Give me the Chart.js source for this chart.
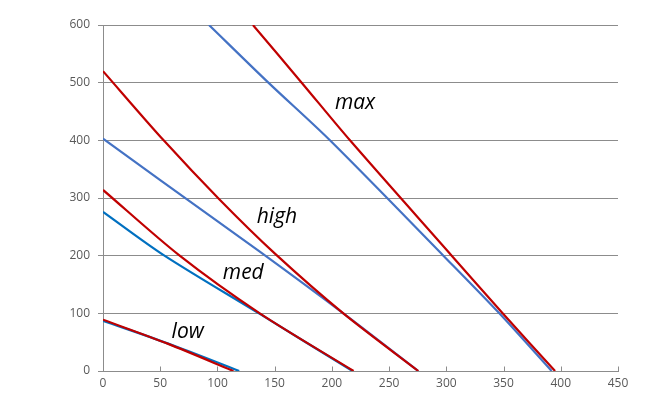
<!DOCTYPE html>
<html>
<head>
<meta charset="utf-8">
<script src="https://cdn.jsdelivr.net/npm/chart.js@4/dist/chart.umd.min.js"></script>
<style>
  html, body { margin: 0; padding: 0; background: #fff; }
  #wrap { width: 645px; height: 406px; }
</style>
</head>
<body>
<div id="wrap"><canvas id="chart" width="645" height="406"></canvas></div>
<script>
// values
const xTicks = [0, 50, 100, 150, 200, 250, 300, 350, 400, 450];
const yTicks = [0, 100, 200, 300, 400, 500, 600];

const lowRedX = [0, 57, 114];
const lowRedY = [89, 47, 0];
const lowBlueX = [0, 57, 119];
const lowBlueY = [87, 47.5, 0];

const medRedX = [0, 67, 137, 219];
const medRedY = [314, 200, 100, 0];
const medBlueX = [0, 53, 137, 218];
const medBlueY = [276, 201, 99, 0];

const highRedX = [0, 53, 102, 150, 210, 275.5];
const highRedY = [520, 400, 297, 204, 100, 0];
const highBlueX = [0, 50, 137, 210, 275.5];
const highBlueY = [403, 331, 207, 100, 0];

const maxRedX = [131, 173.6, 215.8, 304.7, 349.2, 395];
const maxRedY = [600, 500, 400, 200, 100, 0];
const maxBlueX = [92.6, 144.5, 198.3, 297.4, 346.3, 392];
const maxBlueY = [600, 500, 400, 200, 100, 0];

const labelText = ["low", "med", "high", "max"];
const labelX = [74, 122.6, 152, 220.2];
const labelY = [57, 159, 257, 454];

function pts(xs, ys) {
  return xs.map((x, i) => ({ x: x, y: ys[i] }));
}

function series(xs, ys, color, order) {
  return {
    data: pts(xs, ys),
    borderColor: color,
    borderWidth: 2.2,
    pointRadius: 0,
    showLine: true,
    fill: false,
    tension: 0.3,
    order: order
  };
}

const RED = '#C00000';
const BLUE = '#4472C4';
const BLUE2 = '#0070C0';
const GRID = '#8c8c8c';

// italic curve labels and inward x tick marks
const extras = {
  id: 'extras',
  afterDatasetsDraw(chart) {
    const ctx = chart.ctx;
    const xs = chart.scales.x, ys = chart.scales.y;
    ctx.save();
    ctx.font = 'italic 21px "Open Sans"';
    ctx.fillStyle = '#000';
    ctx.textAlign = 'center';
    ctx.textBaseline = 'alphabetic';
    labelText.forEach((t, i) => {
      ctx.fillText(t, xs.getPixelForValue(labelX[i]), ys.getPixelForValue(labelY[i]));
    });
    ctx.strokeStyle = GRID;
    ctx.lineWidth = 1;
    const bottom = Math.round(ys.getPixelForValue(0)) + 0.5;
    xTicks.forEach(v => {
      const px = Math.round(xs.getPixelForValue(v)) + 0.5;
      ctx.beginPath();
      ctx.moveTo(px, bottom);
      ctx.lineTo(px, bottom - 5);
      ctx.stroke();
    });
    ctx.restore();
  }
};

new Chart(document.getElementById('chart'), {
  type: 'scatter',
  data: {
    datasets: [
      series(lowRedX, lowRedY, RED, 0),
      series(medRedX, medRedY, RED, 0),
      series(highRedX, highRedY, RED, 0),
      series(maxRedX, maxRedY, RED, 0),
      series(lowBlueX, lowBlueY, BLUE2, 1),
      series(medBlueX, medBlueY, BLUE2, 1),
      series(highBlueX, highBlueY, BLUE, 1),
      series(maxBlueX, maxBlueY, BLUE, 1)
    ]
  },
  options: {
    responsive: false,
    animation: false,
    layout: { padding: { left: 0, right: 27, top: 25, bottom: 0 } },
    plugins: { legend: { display: false }, tooltip: { enabled: false } },
    scales: {
      x: {
        type: 'linear',
        min: 0,
        max: 450,
        afterBuildTicks: s => { s.ticks = xTicks.map(v => ({ value: v })); },
        afterFit: s => { s.height = 35; },
        grid: { drawOnChartArea: false, drawTicks: false, color: GRID },
        border: { color: GRID, width: 1 },
        ticks: { color: '#595959', font: { family: 'Open Sans', size: 12 }, padding: 5, maxRotation: 0 }
      },
      y: {
        type: 'linear',
        min: 0,
        max: 600,
        afterBuildTicks: s => { s.ticks = yTicks.map(v => ({ value: v })); },
        afterFit: s => { s.width = 103; },
        grid: { color: GRID, tickLength: 5, lineWidth: 1 },
        border: { color: GRID, width: 1 },
        ticks: { color: '#595959', font: { family: 'Open Sans', size: 12 }, padding: 8 }
      }
    }
  },
  plugins: [extras]
});
</script>
</body>
</html>
